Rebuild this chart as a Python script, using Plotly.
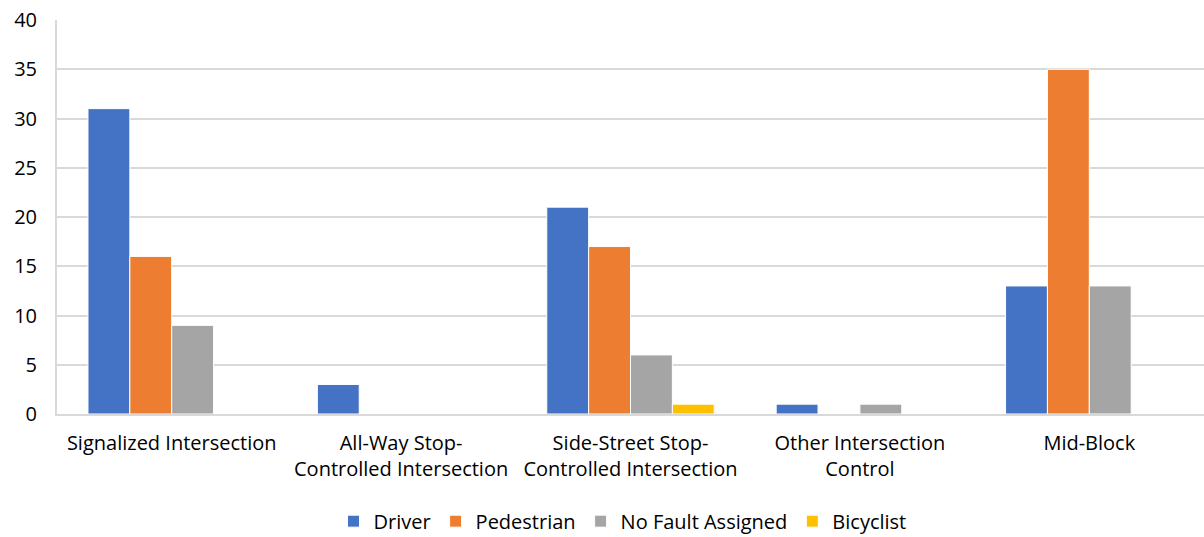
import plotly.graph_objects as go

categories = [
    "Signalized Intersection",
    "All-Way Stop-<br>Controlled Intersection",
    "Side-Street Stop-<br>Controlled Intersection",
    "Other Intersection<br>Control",
    "Mid-Block",
]
driver = [31, 3, 21, 1, 13]
pedestrian = [16, 0, 17, 0, 35]
no_fault = [9, 0, 6, 1, 13]
bicyclist = [0, 0, 1, 0, 0]

series = [
    ("Driver", driver, "#4472C4"),
    ("Pedestrian", pedestrian, "#ED7D31"),
    ("No Fault Assigned", no_fault, "#A5A5A5"),
    ("Bicyclist", bicyclist, "#FFC000"),
]

fig = go.Figure()
for name, vals, color in series:
    fig.add_trace(go.Bar(
        name=name, x=categories, y=vals,
        marker=dict(color=color, line=dict(color="white", width=1)),
    ))

font_family = "Open Sans, sans-serif"
fig.update_layout(
    width=1204, height=537,
    margin=dict(l=57, r=0, t=20, b=123, autoexpand=False),
    paper_bgcolor="white", plot_bgcolor="white",
    barmode="group", bargap=0.27, bargroupgap=0,
    font=dict(family=font_family, size=20, color="#000000"),
    showlegend=True,
    legend=dict(orientation="h", x=0.493, xanchor="center",
                y=-0.272, yanchor="middle",
                font=dict(size=20), itemwidth=30, traceorder="normal"),
    xaxis=dict(showgrid=False, showline=True, linecolor="#d9d9d9", linewidth=2,
               ticks="", tickfont=dict(size=20), ticklabelstandoff=10),
    yaxis=dict(range=[0, 40], dtick=5, showgrid=True, gridcolor="#d9d9d9", gridwidth=2,
               showline=True, linecolor="#d9d9d9", linewidth=2, zeroline=False,
               ticks="", tickfont=dict(size=20), ticklabelstandoff=14),
)

fig.write_html("out.html")
